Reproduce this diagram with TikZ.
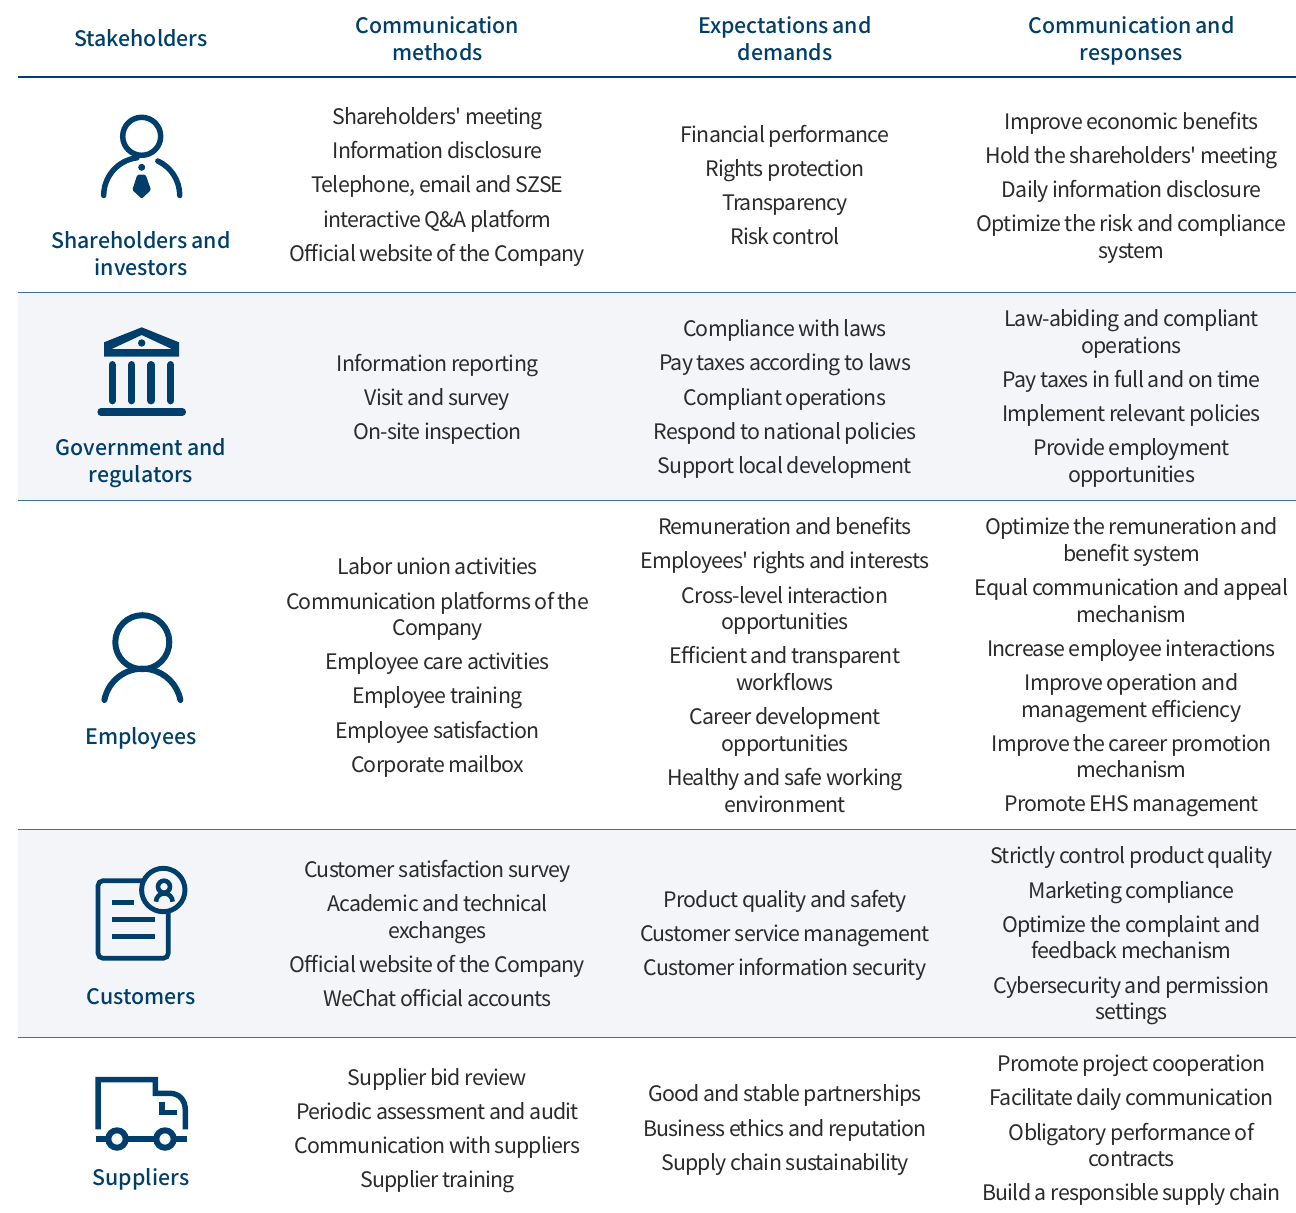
\documentclass[tikz,border=0pt]{standalone}
\usepackage{fontspec}
\setmainfont{Noto Sans CJK SC}[Ligatures=TeXOff,LetterSpace=-3.6]
\newfontfamily\headfont{Noto Sans CJK SC Medium}[Ligatures=TeXOff]
\definecolor{navy}{HTML}{003F6B}
\definecolor{ink}{HTML}{2B2B2B}
\definecolor{rowbg}{HTML}{F4F5F8}
\definecolor{sepline}{HTML}{3F7393}
\newcommand{\gp}{\\[5.6pt]}
\tikzset{
  x=0.75pt,y=-0.75pt,
  cell/.style={align=center,inner sep=0pt,text=ink,font=\fontsize{16}{20}\selectfont,text width=320pt,execute at begin node={\spaceskip=2.8pt\relax}},
  head/.style={align=center,inner sep=0pt,text=navy,font=\fontsize{16}{20.2}\selectfont\headfont,text width=220pt,execute at begin node={\spaceskip=2.9pt\relax}},
  icon/.style={draw=navy,line width=4.1pt,line cap=round},
  iconb/.style={draw=navy,line width=4.1pt},
}
\begin{document}
\begin{tikzpicture}
\useasboundingbox (0,0) rectangle (1296,1213);
\fill[white] (0,0) rectangle (1296,1213);
\fill[rowbg] (18,292) rectangle (1296,500);
\fill[rowbg] (18,829) rectangle (1296,1037);
\coordinate (ruleL) at (18,77); \coordinate (ruleR) at (1296,77);
\draw[navy,line width=1.6pt] (ruleL) -- (ruleR);
\foreach \yy in {292.5,500,829.5,1037}{\draw[sepline,line width=0.7pt] (18,\yy) -- (1296,\yy);}
% headers
\node[head] (h1) at (141,38.5) {Stakeholders};
\node[head] (h2) at (437.5,39) {Communication\\methods};
\node[head] (h3) at (785,39) {Expectations and\\demands};
\node[head] (h4) at (1131.5,41) {Communication and\\responses};
% row 1
\node[head] (s1) at (141,254) {Shareholders and\\investors};
\node[cell] (m1) at (437.5,187) {Shareholders' meeting\gp Information disclosure\gp Telephone, email and SZSE\gp interactive Q\&A platform\gp Official website of the Company};
\node[cell] (e1) at (785,185) {Financial performance\gp Rights protection\gp Transparency\gp Risk control};
\node[cell] (r1) at (1131.5,187.5) {Improve economic benefits\gp Hold the shareholders' meeting\gp Daily information disclosure\gp Optimize the risk and compliance\\system};
% row 2
\node[head] (s2) at (141,463.5) {Government and\\regulators};
\node[cell] (m2) at (437.5,399) {Information reporting\gp Visit and survey\gp On-site inspection};
\node[cell] (e2) at (785,399) {Compliance with laws\gp Pay taxes according to laws\gp Compliant operations\gp Respond to national policies\gp Support local development};
\node[cell] (r2) at (1131.5,398.5) {Law-abiding and compliant\\operations\gp Pay taxes in full and on time\gp Implement relevant policies\gp Provide employment\\opportunities};
% row 3
\node[head] (s3) at (141,738) {Employees};
\node[cell] (m3) at (437.5,667.5) {Labor union activities\gp Communication platforms of the\\Company\gp Employee care activities\gp Employee training\gp Employee satisfaction\gp Corporate mailbox};
\node[cell] (e3) at (785,665) {Remuneration and benefits\gp Employees' rights and interests\gp Cross-level interaction\\opportunities\gp Efficient and transparent\\workflows\gp Career development\\opportunities\gp Healthy and safe working\\environment};
\node[cell] (r3) at (1131.5,667.5) {Optimize the remuneration and\\benefit system\gp Equal communication and appeal\\mechanism\gp Increase employee interactions\gp Improve operation and\\management efficiency\gp Improve the career promotion\\mechanism\gp Promote EHS management};
% row 4
\node[head] (s4) at (141,997) {Customers};
\node[cell] (m4) at (437.5,933.5) {Customer satisfaction survey\gp Academic and technical\\exchanges\gp Official website of the Company\gp WeChat official accounts};
\node[cell] (e4) at (785,935) {Product quality and safety\gp Customer service management\gp Customer information security};
\node[cell] (r4) at (1131.5,936) {Strictly control product quality\gp Marketing compliance\gp Optimize the complaint and\\feedback mechanism\gp Cybersecurity and permission\\settings};
% row 5
\node[head] (s5) at (141,1179) {Suppliers};
\node[cell] (m5) at (437.5,1130.5) {Supplier bid review\gp Periodic assessment and audit\gp Communication with suppliers\gp Supplier training};
\node[cell] (e5) at (785,1130) {Good and stable partnerships\gp Business ethics and reputation\gp Supply chain sustainability};
\node[cell] (r5) at (1131.5,1130.5) {Promote project cooperation\gp Facilitate daily communication\gp Obligatory performance of\\contracts\gp Build a responsible supply chain};
% icon 1: shareholder
\draw[iconb] (141.7,136.3) circle (19);
\draw[icon] (103.7,195.5) arc[start angle=-180,end angle=-97,radius=38];
\draw[icon] (157.8,161) arc[start angle=-65,end angle=0,radius=38];
\fill[navy] (141.7,167.3) circle (3.5);
\fill[navy,rounded corners=1pt] (137.3,174.7) -- (145.7,174.7) -- (151,190) -- (141.7,198.7) -- (132.3,190) -- cycle;
% icon 2: government
\fill[navy,even odd rule] (141.7,327.3) -- (179,342.3) -- (179,356.7) -- (104,356.7) -- (104,342.3) -- cycle (141.7,335) -- (171.7,349) -- (111.7,349) -- cycle;
\fill[navy] (141.7,343) circle (3.7);
\foreach \xx in {112.3,131.7,151,170.7}{\draw[navy,line width=5.5pt,line cap=round] (\xx,364.7) -- (\xx,400.7);}
\draw[navy,line width=5.5pt,line cap=round] (101,412) -- (182.4,412);
% icon 3: employee
\draw[icon,line width=4.5pt] (142.3,642.2) circle (27);
\draw[icon,line width=4.5pt] (104.4,700) arc[start angle=-169,end angle=-11,radius=38.7];
% icon 4: customer
\draw[navy,line width=3.5pt] (143.3,880.7) -- (103,880.7) arc[start angle=-90,end angle=-180,radius=5] -- (98,953.3) arc[start angle=-180,end angle=-270,radius=5] -- (163.3,958.3) arc[start angle=-270,end angle=-360,radius=5] -- (168.3,910);
\draw[navy,line width=3.7pt] (163.3,890) circle (21.7);
\draw[navy,line width=3.5pt] (112.3,902.3) -- (134.3,902.3);
\draw[navy,line width=3.5pt] (112.3,919.3) -- (154.7,919.3);
\draw[navy,line width=3.5pt] (112.3,936.3) -- (154.7,936.3);
\draw[navy,line width=3.4pt] (164,886.7) circle (6);
\draw[navy,line width=3.4pt] (156,901.7) arc[start angle=-180,end angle=0,radius=8.3];
% icon 5: supplier
\draw[navy,line width=4.1pt] (98.2,1129.3) -- (98.2,1079.7) -- (155.3,1079.7) -- (155.3,1093.3) -- (170,1093.3) .. controls (179,1093.3) and (185.3,1100) .. (185.3,1110) -- (185.3,1129.3);
\draw[navy,line width=4.1pt] (162,1101.7) -- (162,1112.7) -- (176.7,1112.7);
\draw[navy,line width=4.5pt] (117,1139) circle (8.7);
\draw[navy,line width=4.5pt] (165,1139) circle (8.7);
\draw[navy,line width=4.1pt] (96,1139) -- (108.3,1139);
\draw[navy,line width=4.1pt] (125.7,1139) -- (156.3,1139);
\draw[navy,line width=4.1pt] (173.7,1139) -- (186.7,1139);
\end{tikzpicture}
\end{document}
